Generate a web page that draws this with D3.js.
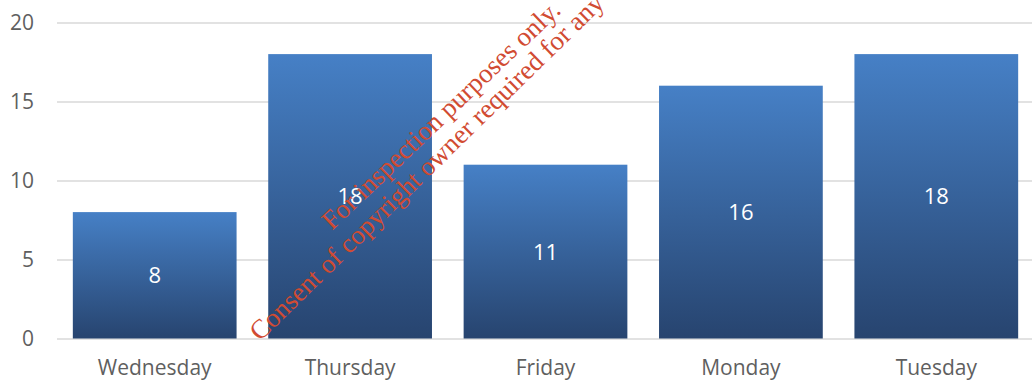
<!DOCTYPE html>
<html>
<head>
<meta charset="utf-8">
<script src="https://cdn.jsdelivr.net/npm/d3@7"></script>
<style>
  html, body { margin: 0; padding: 0; background: #fff; }
  svg { display: block; }
</style>
</head>
<body>
<svg id="chart" width="1032" height="383"></svg>
<script>
// Weekday counts
const categories = ["Wednesday", "Thursday", "Friday", "Monday", "Tuesday"];
const values = [8, 18, 11, 16, 18];
const yTicks = [0, 5, 10, 15, 20];
const watermarkLines = ["For inspection purposes only.", "Consent of copyright owner required for any"];

const W = 1032, H = 383;
const svg = d3.select("#chart");

const x = d3.scaleBand()
  .domain(categories)
  .range([57, 1034])
  .paddingInner(0.162)
  .paddingOuter(0.081);

const y = d3.scaleLinear()
  .domain([0, 20])
  .range([338.5, 22.5]);

// Vertical gradient for the bars
const defs = svg.append("defs");
const grad = defs.append("linearGradient")
  .attr("id", "barGrad")
  .attr("x1", 0).attr("y1", 0).attr("x2", 0).attr("y2", 1);
grad.append("stop").attr("offset", "0%").attr("stop-color", "#4680c6");
grad.append("stop").attr("offset", "100%").attr("stop-color", "#27446f");

// Gridlines and y-axis labels
const yAxis = d3.axisLeft(y)
  .tickValues(yTicks)
  .tickSize(-(W - 57))
  .tickPadding(23)
  .tickFormat(d3.format("d"));

const gy = svg.append("g")
  .attr("transform", "translate(57,0)")
  .call(yAxis);
gy.select(".domain").remove();
gy.selectAll(".tick line")
  .attr("stroke", "#d9d9d9")
  .attr("stroke-width", 1.6);
gy.selectAll(".tick text")
  .attr("fill", "#5f5f5f")
  .attr("font-family", "'Open Sans', sans-serif")
  .attr("font-size", 21)
  .attr("dy", "0.35em");

// Bars
svg.append("g")
  .selectAll("rect")
  .data(values)
  .join("rect")
  .attr("x", (d, i) => x(categories[i]))
  .attr("y", d => y(d))
  .attr("width", x.bandwidth())
  .attr("height", d => y(0) - y(d))
  .attr("fill", "url(#barGrad)");

// Value labels centred in each bar
svg.append("g")
  .selectAll("text")
  .data(values)
  .join("text")
  .attr("x", (d, i) => x(categories[i]) + x.bandwidth() / 2)
  .attr("y", d => (y(d) + y(0)) / 2)
  .attr("dy", "0.36em")
  .attr("text-anchor", "middle")
  .attr("fill", "#ffffff")
  .attr("font-family", "'Open Sans', sans-serif")
  .attr("font-size", 22)
  .text(d => d);

// Category axis
const xAxis = d3.axisBottom(x).tickSize(0).tickPadding(22);
const gx = svg.append("g")
  .attr("transform", `translate(0,${y(0)})`)
  .call(xAxis);
gx.select(".domain").remove();
gx.selectAll(".tick text")
  .attr("fill", "#5f5f5f")
  .attr("font-family", "'Open Sans', sans-serif")
  .attr("font-size", 21);

// Diagonal stamp across the plot
const stamp = svg.append("g")
  .attr("fill", "#d14b32")
  .attr("font-family", "'Liberation Serif', 'Times New Roman', serif")
  .attr("font-size", 27);
const stampPos = [[332, 231], [260, 342]];
const stampAngle = [-43.6, -44.3];
watermarkLines.forEach((t, i) => {
  stamp.append("text")
    .attr("transform", `translate(${stampPos[i][0]},${stampPos[i][1]}) rotate(${stampAngle[i]})`)
    .text(t);
});
</script>
</body>
</html>
